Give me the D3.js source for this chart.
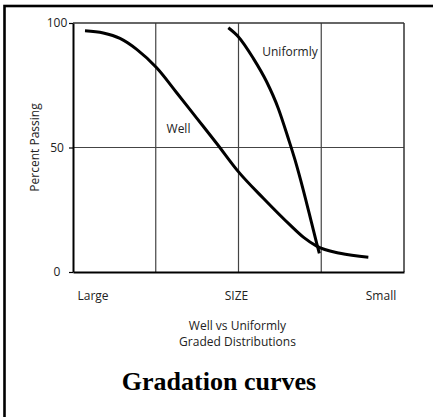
<!DOCTYPE html>
<html>
<head>
<meta charset="utf-8">
<script src="https://cdn.jsdelivr.net/npm/d3@7"></script>
<style>
  html, body { margin: 0; padding: 0; background: #fff; }
  svg { display: block; }
</style>
</head>
<body>
<script>
// ---- data ----
const yTicks = [0, 50, 100];
const xCategoryLabels = ["Large", "SIZE", "Small"];
const gridX = [1, 2, 3];
const gridY = [50];

// x in grid units (0..4, Large -> Small), y in percent passing
const wellX = [0.145, 0.366, 0.568, 0.770, 1.011, 1.253, 1.495, 1.737, 1.998, 2.300, 2.622, 2.783, 2.945, 3.227, 3.569];
const wellY = [96.9, 96.0, 93.8, 89.4, 82.0, 72.0, 61.8, 51.6, 40.3, 29.6, 18.9, 14.0, 10.4, 7.5, 5.9];

const uniX = [1.877, 1.998, 2.179, 2.340, 2.481, 2.602, 2.683, 2.783, 2.884, 2.945, 2.977];
const uniY = [98.1, 94.5, 85.8, 76.4, 65.7, 53.6, 45.0, 32.9, 19.6, 11.5, 7.5];

const seriesLabels = ["Well", "Uniformly"];
const yAxisTitle = "Percent Passing";
const subtitleLines = ["Well vs Uniformly", "Graded Distributions"];
const title = "Gradation curves";

// ---- layout ----
const W = 433, H = 417;
const m = { left: 73, right: 404, top: 23, bottom: 272 };

const svg = d3.select("body").append("svg").attr("width", W).attr("height", H);

// outer frame (cut off at right/bottom)
svg.append("rect")
  .attr("x", 4.5).attr("y", 6).attr("width", 440).attr("height", 430)
  .attr("fill", "none").attr("stroke", "#000").attr("stroke-width", 2.6);

const x = d3.scaleLinear().domain([0, 4]).range([m.left, m.right]);
const y = d3.scaleLinear().domain([0, 100]).range([m.bottom, m.top]);

const font = "'Open Sans', sans-serif";

// grid
svg.append("g").selectAll("line").data(gridX).join("line")
  .attr("x1", d => x(d)).attr("x2", d => x(d))
  .attr("y1", y(0)).attr("y2", y(100))
  .attr("stroke", "#444").attr("stroke-width", 1.2);
svg.append("g").selectAll("line").data(gridY).join("line")
  .attr("x1", x(0)).attr("x2", x(4))
  .attr("y1", d => y(d)).attr("y2", d => y(d))
  .attr("stroke", "#444").attr("stroke-width", 1.2);

// plot frame
svg.append("line").attr("x1", x(0)).attr("x2", x(4)).attr("y1", y(100)).attr("y2", y(100))
  .attr("stroke", "#333").attr("stroke-width", 1.5);
svg.append("line").attr("x1", x(4)).attr("x2", x(4)).attr("y1", y(100)).attr("y2", y(0))
  .attr("stroke", "#333").attr("stroke-width", 1.5);

// y axis
const yAxis = d3.axisLeft(y).tickValues(yTicks).tickSize(4).tickPadding(6).tickSizeOuter(0);
const gy = svg.append("g").attr("transform", `translate(${x(0)},0)`).call(yAxis);
gy.select(".domain").attr("stroke", "#000").attr("stroke-width", 2);
gy.selectAll(".tick line").attr("stroke", "#000").attr("stroke-width", 1.2);
gy.selectAll(".tick text").attr("font-family", font).attr("font-size", 12).attr("fill", "#222")
  .attr("text-anchor", "middle").attr("x", 57 - x(0));

// x axis line (bottom)
const xAxis = d3.axisBottom(x).tickValues([]).tickSizeOuter(0);
const gx = svg.append("g").attr("transform", `translate(0,${y(0)})`).call(xAxis);
gx.select(".domain").attr("stroke", "#000").attr("stroke-width", 2);

// x category labels (Large / SIZE / Small)
const xLabelPos = d3.scalePoint().domain(xCategoryLabels).range([93, 381]);
svg.append("g").selectAll("text").data(xCategoryLabels).join("text")
  .attr("x", d => d === "SIZE" ? 236.5 : xLabelPos(d)).attr("y", 299.5)
  .attr("text-anchor", "middle")
  .attr("font-family", font).attr("font-size", 12).attr("fill", "#222")
  .text(d => d);

// y axis title
svg.append("text")
  .attr("transform", `translate(39,${(y(0) + y(100)) / 2}) rotate(-90)`)
  .attr("text-anchor", "middle")
  .attr("font-family", font).attr("font-size", 12).attr("fill", "#222")
  .text(yAxisTitle);

// curves
const line = d3.line().x(d => x(d[0])).y(d => y(d[1])).curve(d3.curveMonotoneX);
const wellPts = wellX.map((v, i) => [v, wellY[i]]);
const uniPts = uniX.map((v, i) => [v, uniY[i]]);
[wellPts, uniPts].forEach(pts => {
  svg.append("path").datum(pts).attr("d", line)
    .attr("fill", "none").attr("stroke", "#000").attr("stroke-width", 3);
});

// series labels
svg.append("text").attr("x", 178.5).attr("y", 132.5).attr("text-anchor", "middle")
  .attr("font-family", font).attr("font-size", 12).attr("fill", "#222").text(seriesLabels[0]);
svg.append("text").attr("x", 290).attr("y", 56).attr("text-anchor", "middle")
  .attr("font-family", font).attr("font-size", 12).attr("fill", "#222").text(seriesLabels[1]);

// subtitle
svg.append("g").selectAll("text").data(subtitleLines).join("text")
  .attr("x", 237.5).attr("y", (d, i) => 329.5 + i * 16)
  .attr("text-anchor", "middle")
  .attr("font-family", font).attr("font-size", 12).attr("fill", "#222")
  .text(d => d);

// title
svg.append("text").attr("x", 219).attr("y", 390).attr("text-anchor", "middle")
  .attr("font-family", "'Liberation Serif', 'Times New Roman', serif")
  .attr("font-weight", "bold").attr("font-size", 26).attr("fill", "#000")
  .text(title);
</script>
</body>
</html>
